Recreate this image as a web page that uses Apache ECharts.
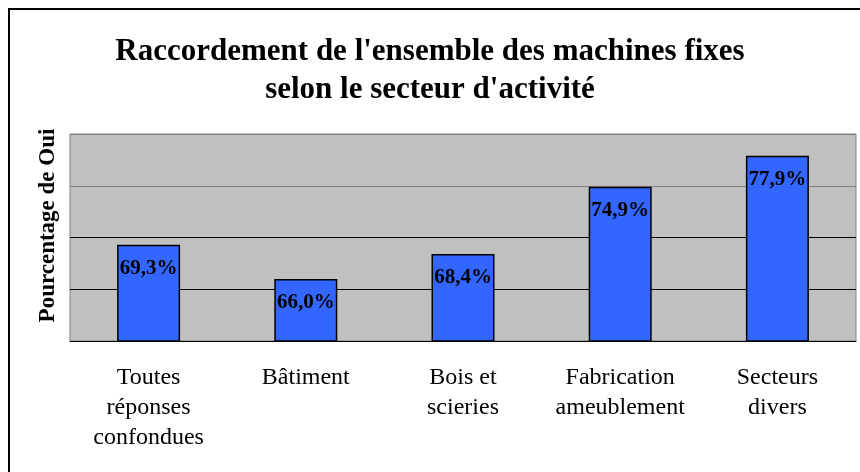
<!DOCTYPE html>
<html>
<head>
<meta charset="utf-8">
<script src="https://cdn.jsdelivr.net/npm/echarts@6/dist/echarts.min.js"></script>
<style>
  html, body { margin: 0; padding: 0; background: #fff; }
  #chart { width: 860px; height: 472px; }
</style>
</head>
<body>
<div id="chart"></div>
<script>
// catégories et pourcentages de "Oui"
var categories = ['Toutes\nréponses\nconfondues', 'Bâtiment', 'Bois et\nscieries', 'Fabrication\nameublement', 'Secteurs\ndivers']
var values = [69.3, 66.0, 68.4, 74.9, 77.9]
var titleText = "Raccordement de l'ensemble des machines fixes\nselon le secteur d'activité"
var yName = 'Pourcentage de Oui'

var serif = '"Liberation Serif", "Times New Roman", serif'

var myChart = echarts.init(document.getElementById('chart'))
myChart.setOption({
  animation: false,
  backgroundColor: '#fff',
  title: {
    text: titleText,
    left: 'center',
    top: 28,
    textStyle: {
      fontFamily: serif,
      fontWeight: 'bold',
      fontSize: 31,
      lineHeight: 38,
      color: '#000'
    }
  },
  graphic: [{
    // cadre extérieur
    type: 'rect',
    shape: { x: 9, y: 9, width: 900, height: 520 },
    style: { fill: 'none', stroke: '#000', lineWidth: 2 },
    silent: true
  }],
  grid: {
    left: 70,
    right: 4,
    top: 134,
    bottom: 131,
    show: true,
    backgroundColor: '#c0c0c0',
    borderColor: '#808080',
    borderWidth: 1
  },
  xAxis: {
    type: 'category',
    data: categories,
    axisLine: { lineStyle: { color: '#000', width: 1 } },
    axisTick: { length: 8, lineStyle: { color: '#000' } },
    axisLabel: {
      margin: 22,
      interval: 0,
      fontFamily: serif,
      fontSize: 24,
      lineHeight: 30,
      color: '#000'
    }
  },
  yAxis: {
    type: 'value',
    min: 60,
    max: 80,
    interval: 5,
    name: yName,
    nameLocation: 'middle',
    nameGap: 10,
    nameTextStyle: {
      fontFamily: serif,
      fontWeight: 'bold',
      fontSize: 23,
      color: '#000',
      padding: [0, 0, 0, 24]
    },
    axisLabel: { show: false },
    axisLine: { show: false },
    axisTick: { show: false },
    splitLine: {
      lineStyle: { color: ['#000', '#000', '#000', '#808080', '#808080'], width: 1 }
    }
  },
  series: [{
    type: 'bar',
    data: values,
    barWidth: 63,
    itemStyle: { color: '#3366ff', borderColor: '#000', borderWidth: 1.5 },
    label: {
      show: true,
      position: 'insideTop',
      distance: 13,
      fontFamily: serif,
      fontWeight: 'bold',
      fontSize: 21,
      color: '#000',
      formatter: function (p) {
        return p.value.toFixed(1).replace('.', ',') + '%'
      }
    }
  }]
})
</script>
</body>
</html>
